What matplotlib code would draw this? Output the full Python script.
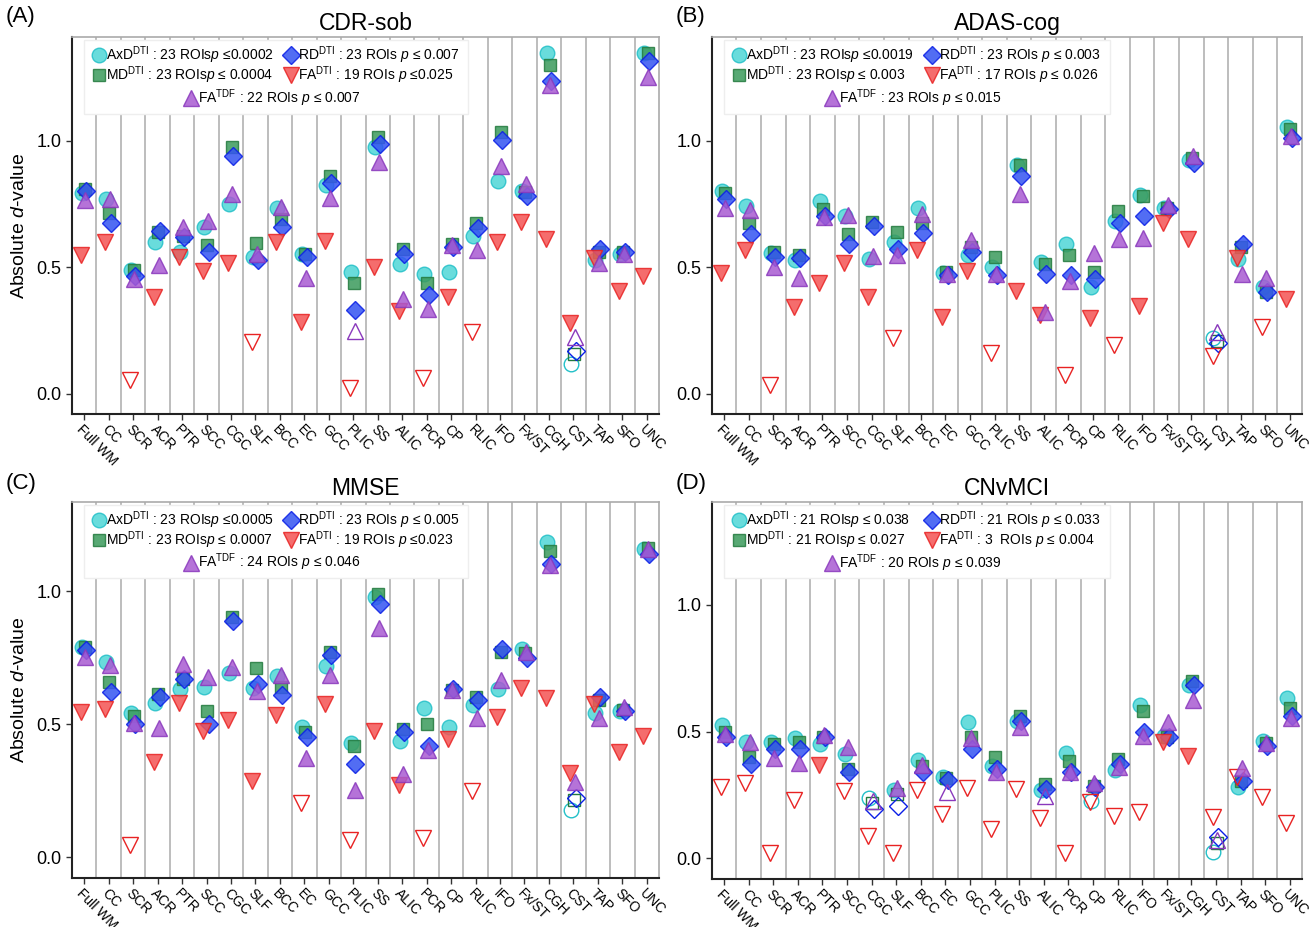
import numpy as np
import matplotlib
matplotlib.use("Agg")
import matplotlib.pyplot as plt
from matplotlib.patches import Rectangle

plt.rcParams['font.family'] = ['Liberation Sans', 'DejaVu Sans']
plt.rcParams['mathtext.fontset'] = 'custom'
plt.rcParams['mathtext.rm'] = 'Liberation Sans'
plt.rcParams['mathtext.it'] = 'Liberation Sans:italic'

# ROI order on the x axis
rois = ['Full WM', 'CC', 'SCR', 'ACR', 'PTR', 'SCC', 'CGC', 'SLF', 'BCC', 'EC', 'GCC', 'PLIC',
        'SS', 'ALIC', 'PCR', 'CP', 'RLIC', 'IFO', 'Fx/ST', 'CGH', 'CST', 'TAP', 'SFO', 'UNC']

# (A) CDR-sob
cdr_axd = [0.795, 0.77, 0.49, 0.60, 0.56, 0.66, 0.75, 0.54, 0.733, 0.553, 0.825, 0.483,
           0.974, 0.513, 0.474, 0.48, 0.624, 0.842, 0.803, 1.347, 0.117, 0.529, 0.553, 1.347]
cdr_md = [0.81, 0.715, 0.49, 0.64, 0.625, 0.59, 0.975, 0.595, 0.693, 0.553, 0.862, 0.44,
          1.016, 0.571, 0.44, 0.592, 0.674, 1.036, 0.796, 1.299, 0.158, 0.562, 0.562, 1.347]
cdr_rd = [0.80, 0.675, 0.465, 0.645, 0.62, 0.56, 0.94, 0.53, 0.66, 0.542, 0.832, 0.33,
          0.987, 0.553, 0.39, 0.582, 0.654, 1.003, 0.782, 1.237, 0.17, 0.572, 0.562, 1.316]
cdr_fadti = [0.55, 0.60, 0.055, 0.385, 0.54, 0.487, 0.518, 0.207, 0.60, 0.285, 0.605, 0.022,
             0.50, 0.329, 0.062, 0.384, 0.246, 0.601, 0.68, 0.611, 0.279, 0.538, 0.407, 0.466]
cdr_fatdf = [0.765, 0.77, 0.455, 0.51, 0.66, 0.685, 0.79, 0.553, 0.737, 0.457, 0.776, 0.249,
             0.917, 0.376, 0.334, 0.588, 0.568, 0.90, 0.829, 1.22, 0.226, 0.516, 0.553, 1.253]

# (B) ADAS-cog
adas_axd = [0.803, 0.742, 0.555, 0.529, 0.763, 0.703, 0.532, 0.601, 0.733, 0.476, 0.549, 0.50,
            0.904, 0.52, 0.592, 0.421, 0.684, 0.786, 0.733, 0.926, 0.22, 0.532, 0.424, 1.055]
adas_md = [0.795, 0.674, 0.562, 0.549, 0.730, 0.632, 0.68, 0.641, 0.674, 0.48, 0.582, 0.542,
           0.904, 0.512, 0.549, 0.483, 0.722, 0.782, 0.733, 0.933, 0.21, 0.582, 0.404, 1.045]
adas_rd = [0.772, 0.632, 0.542, 0.539, 0.703, 0.592, 0.663, 0.571, 0.634, 0.47, 0.562, 0.47,
           0.861, 0.472, 0.47, 0.453, 0.674, 0.704, 0.729, 0.914, 0.20, 0.592, 0.401, 1.013]
adas_fadti = [0.476, 0.568, 0.036, 0.345, 0.437, 0.516, 0.384, 0.22, 0.568, 0.305, 0.487, 0.161,
              0.408, 0.312, 0.075, 0.299, 0.193, 0.347, 0.674, 0.614, 0.15, 0.538, 0.266, 0.374]
adas_fatdf = [0.733, 0.726, 0.50, 0.457, 0.70, 0.707, 0.545, 0.549, 0.709, 0.472, 0.608, 0.475,
              0.788, 0.325, 0.447, 0.555, 0.614, 0.618, 0.746, 0.939, 0.246, 0.472, 0.457, 1.018]

# (C) MMSE
mmse_axd = [0.791, 0.732, 0.541, 0.578, 0.631, 0.638, 0.691, 0.635, 0.681, 0.488, 0.72, 0.428,
            0.979, 0.438, 0.562, 0.488, 0.572, 0.631, 0.782, 1.183, 0.178, 0.541, 0.551, 1.158]
mmse_md = [0.791, 0.66, 0.532, 0.612, 0.67, 0.549, 0.904, 0.71, 0.641, 0.472, 0.77, 0.419,
           0.987, 0.482, 0.501, 0.628, 0.60, 0.77, 0.766, 1.15, 0.215, 0.591, 0.553, 1.163]
mmse_rd = [0.778, 0.62, 0.499, 0.601, 0.67, 0.499, 0.889, 0.65, 0.61, 0.451, 0.76, 0.349,
           0.95, 0.469, 0.419, 0.631, 0.591, 0.781, 0.75, 1.10, 0.224, 0.60, 0.549, 1.139]
mmse_fadti = [0.544, 0.557, 0.046, 0.357, 0.578, 0.474, 0.516, 0.287, 0.534, 0.203, 0.574, 0.065,
              0.476, 0.272, 0.071, 0.444, 0.247, 0.528, 0.635, 0.597, 0.315, 0.574, 0.397, 0.457]
mmse_fatdf = [0.753, 0.722, 0.503, 0.484, 0.725, 0.676, 0.716, 0.625, 0.685, 0.372, 0.685, 0.253,
              0.862, 0.313, 0.403, 0.628, 0.522, 0.666, 0.772, 1.098, 0.284, 0.522, 0.566, 1.158]

# (D) CNvMCI
cn_axd = [0.524, 0.46, 0.46, 0.474, 0.45, 0.41, 0.239, 0.27, 0.388, 0.322, 0.539, 0.362,
          0.542, 0.27, 0.414, 0.226, 0.349, 0.603, 0.483, 0.682, 0.024, 0.28, 0.463, 0.634]
cn_md = [0.50, 0.399, 0.45, 0.457, 0.48, 0.353, 0.217, 0.253, 0.362, 0.318, 0.48, 0.401,
         0.563, 0.292, 0.382, 0.283, 0.391, 0.582, 0.48, 0.70, 0.059, 0.303, 0.454, 0.592]
cn_rd = [0.48, 0.371, 0.43, 0.43, 0.48, 0.342, 0.193, 0.207, 0.342, 0.309, 0.43, 0.351,
         0.542, 0.272, 0.342, 0.28, 0.371, 0.50, 0.48, 0.682, 0.082, 0.303, 0.441, 0.563]
cn_fadti = [0.28, 0.296, 0.02, 0.23, 0.368, 0.266, 0.086, 0.02, 0.27, 0.175, 0.276, 0.114,
            0.272, 0.158, 0.02, 0.221, 0.168, 0.182, 0.46, 0.404, 0.164, 0.322, 0.243, 0.138]
cn_fatdf = [0.49, 0.457, 0.395, 0.375, 0.487, 0.437, 0.224, 0.276, 0.368, 0.263, 0.474, 0.342,
            0.516, 0.247, 0.339, 0.296, 0.358, 0.484, 0.537, 0.625, 0.072, 0.355, 0.454, 0.553]

# non-significant ROIs (drawn hollow)
cdr_ns = {'axd': ['CST'], 'md': ['CST'], 'rd': ['CST'],
          'fadti': ['SCR', 'SLF', 'PLIC', 'PCR', 'RLIC'], 'fatdf': ['PLIC', 'CST']}
adas_ns = {'axd': ['CST'], 'md': ['CST'], 'rd': ['CST'],
           'fadti': ['SCR', 'SLF', 'PLIC', 'PCR', 'RLIC', 'CST', 'SFO'], 'fatdf': ['CST']}
mmse_ns = {'axd': ['CST'], 'md': ['CST'], 'rd': ['CST'],
           'fadti': ['SCR', 'EC', 'PLIC', 'PCR', 'RLIC'], 'fatdf': []}
cn_ns = {'axd': ['CGC', 'CP', 'CST'], 'md': ['CGC', 'SLF', 'CST'], 'rd': ['CGC', 'SLF', 'CST'],
         'fadti': [r for r in rois if r not in ('PTR', 'Fx/ST', 'CGH')],
         'fatdf': ['CGC', 'EC', 'ALIC', 'CST']}

# legend texts
cdr_leg = ['23 ROIs$\\mathit{p}$ ≤0.0002', '23 ROIs$\\mathit{p}$ ≤ 0.0004', '23 ROIs $\\mathit{p}$ ≤ 0.007',
           '19 ROIs $\\mathit{p}$ ≤0.025', '22 ROIs $\\mathit{p}$ ≤ 0.007']
adas_leg = ['23 ROIs$\\mathit{p}$ ≤0.0019', '23 ROIs$\\mathit{p}$ ≤ 0.003', '23 ROIs $\\mathit{p}$ ≤ 0.003',
            '17 ROIs $\\mathit{p}$ ≤ 0.026', '23 ROIs $\\mathit{p}$ ≤ 0.015']
mmse_leg = ['23 ROIs$\\mathit{p}$ ≤0.0005', '23 ROIs$\\mathit{p}$ ≤ 0.0007', '23 ROIs $\\mathit{p}$ ≤ 0.005',
            '19 ROIs $\\mathit{p}$ ≤0.023', '24 ROIs $\\mathit{p}$ ≤ 0.046']
cn_leg = ['21 ROIs$\\mathit{p}$ ≤ 0.038', '21 ROIs$\\mathit{p}$ ≤ 0.027', '21 ROIs $\\mathit{p}$ ≤ 0.033',
          '3  ROIs $\\mathit{p}$ ≤ 0.004', '20 ROIs $\\mathit{p}$ ≤ 0.039']

panels = [
    ('(A)', 'CDR-sob', [cdr_axd, cdr_md, cdr_rd, cdr_fadti, cdr_fatdf], cdr_ns, cdr_leg, (-0.079, 1.41)),
    ('(B)', 'ADAS-cog', [adas_axd, adas_md, adas_rd, adas_fadti, adas_fatdf], adas_ns, adas_leg, (-0.079, 1.41)),
    ('(C)', 'MMSE', [mmse_axd, mmse_md, mmse_rd, mmse_fadti, mmse_fatdf], mmse_ns, mmse_leg, (-0.078, 1.336)),
    ('(D)', 'CNvMCI', [cn_axd, cn_md, cn_rd, cn_fadti, cn_fatdf], cn_ns, cn_leg, (-0.082, 1.408)),
]

keys = ['axd', 'md', 'rd', 'fadti', 'fatdf']
names = ['AxD$^{\\mathrm{DTI}}$', 'MD$^{\\mathrm{DTI}}$', 'RD$^{\\mathrm{DTI}}$',
         'FA$^{\\mathrm{DTI}}$', 'FA$^{\\mathrm{TDF}}$']
markers = ['o', 's', 'D', 'v', '^']
msizes = [10.5, 9, 9, 11.5, 11.5]
faces = ['#4fd6d6', '#3b9a5c', '#3454f2', '#f45454', '#a85ad2']
edges = ['#22c0c8', '#237a3e', '#0a1ee6', '#e82222', '#8a38bc']
offsets = [-0.1, 0.03, 0.09, -0.14, 0.05]

fig = plt.figure(figsize=(13.12, 9.27), dpi=100)
boxes = [[0.0549, 0.5534, 0.4474, 0.4067], [0.5425, 0.5534, 0.4499, 0.4067],
         [0.0549, 0.0529, 0.4474, 0.4060], [0.5425, 0.0519, 0.4499, 0.4070]]
label_pos = [(0.004, 0.976), (0.515, 0.976), (0.004, 0.472), (0.515, 0.472)]

x = np.arange(len(rois))
for p, (tag, title, series, ns, leg, ylim) in enumerate(panels):
    ax = fig.add_axes(boxes[p])
    for b in np.arange(0.5, len(rois) - 1, 1.0):
        ax.axvline(b, color='#bdbdbd', lw=1.4, zorder=0)
    for k in range(5):
        vals = np.array(series[k])
        hollow = np.array([r in ns[keys[k]] for r in rois])
        ax.plot(x[~hollow] + offsets[k], vals[~hollow], ls='none', marker=markers[k],
                ms=msizes[k], mfc=faces[k], mec=edges[k], mew=1.0, alpha=0.85, zorder=3 + k)
        if hollow.any():
            ax.plot(x[hollow] + offsets[k], vals[hollow], ls='none', marker=markers[k],
                    ms=msizes[k], mfc='none', mec=edges[k], mew=1.0, zorder=3 + k)
    ax.set_xlim(-0.5, len(rois) - 0.5)
    ax.set_ylim(*ylim)
    ax.set_yticks([0.0, 0.5, 1.0])
    ax.set_yticklabels(['0.0', '0.5', '1.0'], fontsize=13)
    ax.set_xticks(x)
    ax.set_xticklabels(rois, rotation=-45, ha='left', va='top', rotation_mode='anchor', fontsize=10)
    ax.tick_params(axis='both', length=4, width=1, color='#333333')
    ax.tick_params(axis='x', pad=2)
    for s in ['left', 'bottom']:
        ax.spines[s].set_linewidth(1.5)
        ax.spines[s].set_color('#222222')
    for s in ['top', 'right']:
        ax.spines[s].set_linewidth(1.2)
        ax.spines[s].set_color('#aaaaaa')
    ax.set_title(title, fontsize=16.5, pad=5)
    if p % 2 == 0:
        ax.set_ylabel('Absolute $\\mathit{d}$-value', fontsize=14, labelpad=6)
    fig.text(label_pos[p][0], label_pos[p][1], tag, fontsize=16)

    # legend box drawn by hand (2 columns + centered last row)
    ax.add_patch(Rectangle((0.02, 0.797), 0.655, 0.195, transform=ax.transAxes,
                           facecolor='white', edgecolor='#eeeeee', lw=1, zorder=10))
    spots = [(0.046, 0.951), (0.046, 0.898), (0.373, 0.951), (0.373, 0.898), (0.203, 0.838)]
    for k in range(5):
        mx, my = spots[k]
        ax.plot([mx], [my], transform=ax.transAxes, ls='none', marker=markers[k], ms=msizes[k],
                mfc=faces[k], mec=edges[k], mew=1.0, alpha=0.85, zorder=11, clip_on=False)
        ax.text(mx + 0.012, my, names[k] + ' : ' + leg[k], transform=ax.transAxes,
                fontsize=10, va='center', ha='left', zorder=12)

fig.savefig('out.png', dpi=100)
